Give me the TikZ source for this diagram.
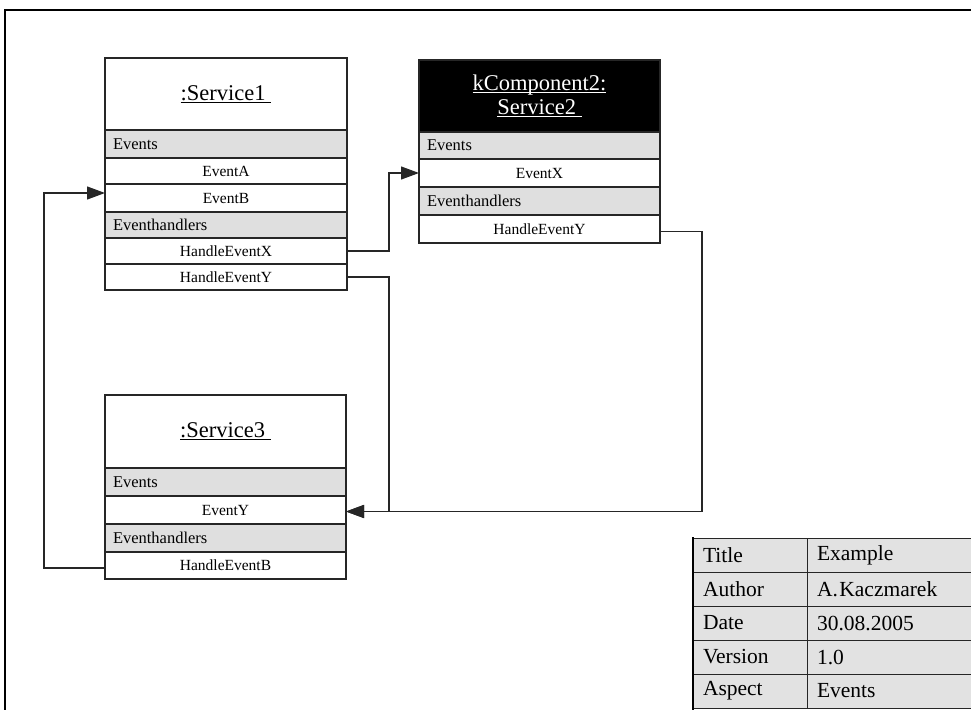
\documentclass[tikz,border=0pt]{standalone}
\usepackage{fontspec}
\setmainfont{Liberation Serif}
\usetikzlibrary{arrows.meta}
\definecolor{rowgray}{HTML}{DFDFDF}
\definecolor{tabgray}{HTML}{E2E2E2}
\definecolor{linegray}{HTML}{262626}
% underline that runs one space past the word, as in object names
\newcommand{\hdul}[1]{\setbox0\hbox{#1}\rlap{\rule[-2.4pt]{\wd0}{0.7pt}}\box0}
\tikzset{
  box/.style={draw=linegray,line width=1.1pt,inner sep=0pt,outer sep=0pt,anchor=north west},
  head/.style={box,fill=white,font=\fontsize{22.5}{24}\selectfont,align=center},
  sect/.style={box,fill=rowgray,font=\fontsize{16.5}{18}\selectfont,inner xsep=8pt,align=left},
  item/.style={box,fill=white,font=\fontsize{15.5}{17}\selectfont},
  conn/.style={draw=linegray,line width=1.2pt},
  arr/.style={-{Triangle[length=18pt,width=13pt]}},
  cell/.style={draw=linegray,line width=0.9pt,fill=tabgray,inner sep=0pt,outer sep=0pt,
    anchor=north west,minimum height=34pt,font=\fontsize{21.5}{24}\selectfont,
    inner xsep=10pt,align=left}
}
\begin{document}
\begin{tikzpicture}[x=1pt,y=-1pt]
\useasboundingbox (0,0) rectangle (971,709);
\clip (0,0) rectangle (971,709);

% page frame
\draw[line width=2.2pt] (5,1200) -- (5,10) -- (1200,10);

% :Service1
\node[head,minimum width=242pt,minimum height=72pt] (s1head) at (105,58) {\hdul{:Service1\ }};
\node[sect,text width=226pt,minimum height=28pt] (s1ev) at (105,130) {Events};
\node[item,minimum width=242pt,minimum height=26pt] (s1evA) at (105,158) {EventA};
\node[item,minimum width=242pt,minimum height=28pt] (s1evB) at (105,184) {EventB};
\node[sect,text width=226pt,minimum height=26pt] (s1eh) at (105,212) {Eventhandlers};
\node[item,minimum width=242pt,minimum height=26pt] (s1hX) at (105,238) {HandleEventX};
\node[item,minimum width=242pt,minimum height=26pt] (s1hY) at (105,264) {HandleEventY};

% kComponent2:Service2
\node[head,fill=black,text=white,minimum width=241pt,minimum height=72pt] (s2head) at (419,60)
  {\hdul{kComponent2:}\\\hdul{Service2\ }};
\node[sect,text width=225pt,minimum height=27pt] (s2ev) at (419,132) {Events};
\node[item,minimum width=241pt,minimum height=28pt] (s2evX) at (419,159) {EventX};
\node[sect,text width=225pt,minimum height=28pt] (s2eh) at (419,187) {Eventhandlers};
\node[item,minimum width=241pt,minimum height=28pt] (s2hY) at (419,215) {HandleEventY};

% :Service3
\node[head,minimum width=241pt,minimum height=73pt] (s3head) at (105,395) {\hdul{:Service3\ }};
\node[sect,text width=225pt,minimum height=28pt] (s3ev) at (105,468) {Events};
\node[item,minimum width=241pt,minimum height=28pt] (s3evY) at (105,496) {EventY};
\node[sect,text width=225pt,minimum height=28pt] (s3eh) at (105,524) {Eventhandlers};
\node[item,minimum width=241pt,minimum height=27pt] (s3hB) at (105,552) {HandleEventB};

% event wiring
\draw[conn,arr] ([yshift=-2.5pt]s3hB.west) -- ++(-61,0) |- ([yshift=5pt]s1evB.west);
\draw[conn,arr] (s1hX.east) -- ++(42,0) |- (s2evX.west);
\draw[conn,arr] (s1hY.east) -- ++(42,0) |- ([yshift=-1.5pt]s3evY.east);
\draw[conn,arr] ([yshift=-2.5pt]s2hY.east) -- ++(42,0) |- ([yshift=-1.5pt]s3evY.east);

% title block
\foreach \k/\v [count=\i] in {Title/Example,Author/A.\hspace{1.5pt}Kaczmarek,Date/30.08.2005,Version/1.0,Aspect/Events}{
  \node[cell,text width=94pt] (tk\i) at (693,{538+34*(\i-1)}) {\k};
  \node[cell,text width=170pt] (tv\i) at (807,{538+34*(\i-1)}) {\v};
}
\draw[line width=2pt] (693,537) -- (693,720);
\end{tikzpicture}
\end{document}
